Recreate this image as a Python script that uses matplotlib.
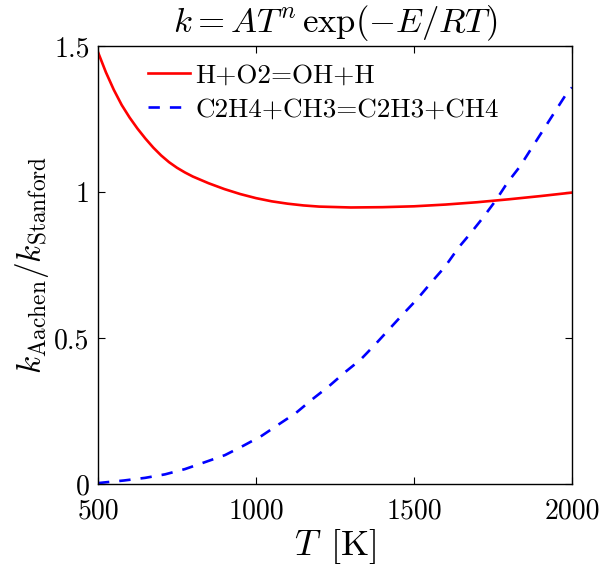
import numpy as np
import matplotlib
matplotlib.use("Agg")
from matplotlib import pyplot as plt

#%% データ
T_h_o2 = [500, 525, 550, 575, 600, 625, 650, 675, 700, 725, 750, 775, 800, 850,
          900, 950, 1000, 1050, 1100, 1150, 1200, 1300, 1400, 1500, 1600, 1700,
          1800, 1900, 2000]
ratio_h_o2 = [1.479, 1.410, 1.350, 1.298, 1.255, 1.217, 1.183, 1.152, 1.125, 1.102,
              1.083, 1.067, 1.053, 1.030, 1.010, 0.993, 0.979, 0.968, 0.960, 0.954,
              0.950, 0.947, 0.948, 0.951, 0.957, 0.965, 0.975, 0.986, 0.998]

T_c2h4 = [500, 517, 582, 649, 712, 775, 839, 902, 960, 1018, 1073, 1126, 1178, 1231,
          1283, 1331, 1379, 1423, 1468, 1510, 1556, 1598, 1642, 1677, 1719, 1760,
          1795, 1835, 1872, 1907, 1943, 1978, 2000]
ratio_c2h4 = [0.003, 0.005, 0.012, 0.021, 0.033, 0.051, 0.075, 0.099, 0.131, 0.165,
              0.205, 0.243, 0.290, 0.335, 0.384, 0.426, 0.480, 0.532, 0.585, 0.633,
              0.692, 0.744, 0.811, 0.856, 0.913, 0.973, 1.031, 1.087, 1.150, 1.209,
              1.270, 1.329, 1.358]

labels = ["H+O2=OH+H", "C2H4+CH3=C2H3+CH4"]
x_ticks = [500, 1000, 1500, 2000]
y_ticks = [0, 0.5, 1, 1.5]
y_tick_labels = ["0", "0.5", "1", "1.5"]

#%% フォント設定
plt.rcParams["font.family"] = "serif"
plt.rcParams["font.serif"] = ["cmr10"]
plt.rcParams["mathtext.fontset"] = "cm"
plt.rcParams["axes.unicode_minus"] = False

#%% 描画
fig = plt.figure(figsize=(6.01, 5.68), dpi=100)
ax = fig.add_axes([98 / 601, 84 / 568, 474 / 601, 438 / 568])

ax.plot(T_h_o2, ratio_h_o2, color="#ff0000", lw=1.9, label=labels[0])
ax.plot(T_c2h4, ratio_c2h4, color="#0000ff", lw=1.9, dashes=(4.3, 3.8), label=labels[1])

ax.set_xlim(500, 2000)
ax.set_ylim(0, 1.5)
ax.set_xticks(x_ticks)
ax.set_xticklabels([str(t) for t in x_ticks])
ax.set_yticks(y_ticks)
ax.set_yticklabels(y_tick_labels)
ax.tick_params(direction="in", length=5, width=0.8, top=True, right=True,
               labelsize=20)
ax.tick_params(axis="x", pad=10)
ax.tick_params(axis="y", pad=6)
for s in ax.spines.values():
    s.set_linewidth(1.0)

ax.set_title(r"$k = AT^n\,\exp(-E/RT)$", fontsize=25, pad=10)
ax.set_xlabel(r"$T\ \,[\mathrm{K}]$", fontsize=26, labelpad=2)
ax.set_ylabel(r"$k_{\mathrm{Aachen}}/k_{\mathrm{Stanford}}$", fontsize=24, labelpad=2)

ax.legend(loc="upper left", bbox_to_anchor=(0.105, 0.96), frameon=False,
          fontsize=19.5, borderpad=0, borderaxespad=0, handlelength=1.55,
          handletextpad=0.2, labelspacing=0.38)

fig.savefig("out.png", dpi=100)
